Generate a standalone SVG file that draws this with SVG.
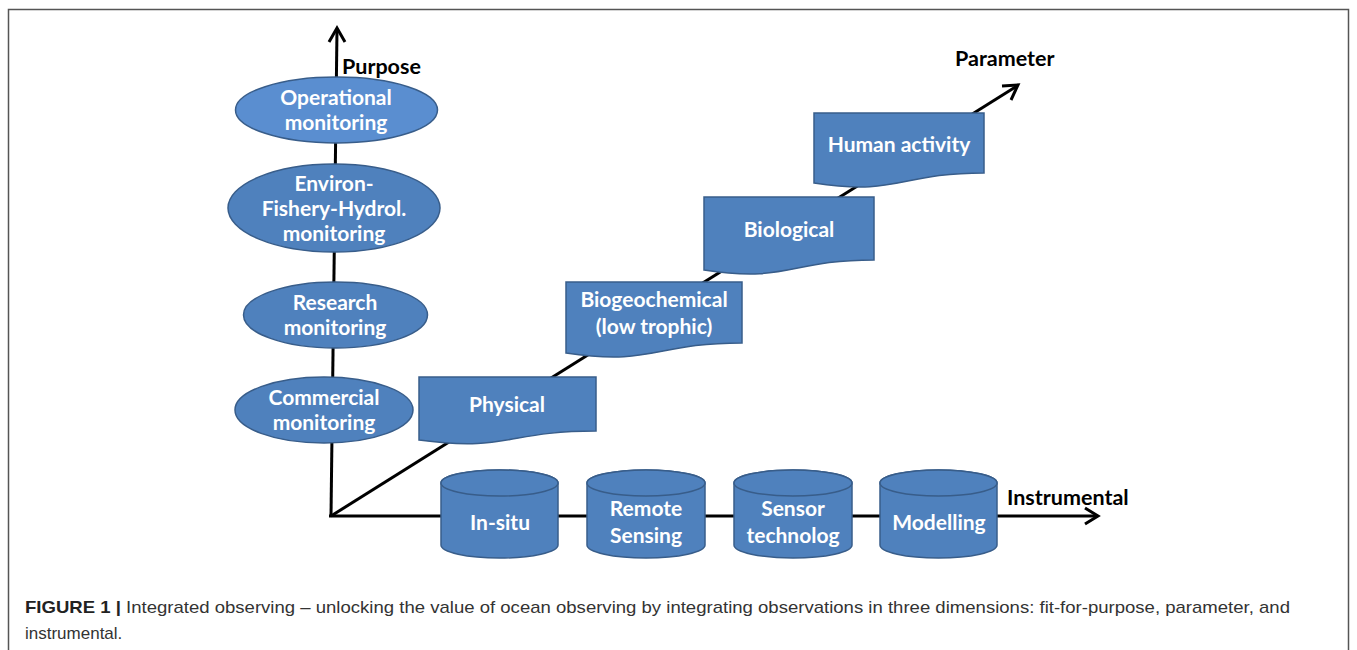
<svg xmlns="http://www.w3.org/2000/svg" width="1357" height="650" viewBox="0 0 1357 650">
<style>
.node{fill:#4f81bd;stroke:#385d8a;stroke-width:1.5}
.light{fill:#5a8ed0}
.t{font-family:Lato,"Liberation Sans",sans-serif;font-weight:bold;font-size:21px;fill:#ffffff;text-anchor:middle}
.ax{font-family:Lato,"Liberation Sans",sans-serif;font-weight:bold;font-size:21.5px;fill:#000000}
.axis{stroke:#000;stroke-width:3;fill:none}
.cap{font-family:"Liberation Sans",Arial,sans-serif;font-size:17px;fill:#333333}
</style>
<rect x="0" y="0" width="1357" height="650" fill="#ffffff"/>
<rect x="8.5" y="9.5" width="1340" height="660" fill="none" stroke="#555555" stroke-width="1.5"/>

<g id="connectors">
<line class="axis" x1="331" y1="516" x2="337" y2="29"/>
<polyline class="axis" points="329,42 337,28 345,42"/>
<line class="axis" x1="329" y1="516" x2="1097" y2="516"/>
<polyline class="axis" points="1085,508 1098,516 1085,524"/>
<line class="axis" x1="331" y1="516" x2="1017" y2="86"/>
<polyline class="axis" points="1002,86 1018,85 1011,100"/>
</g>

<g id="purpose-ops">
<ellipse class="node light" cx="336.5" cy="110" rx="101" ry="33"/>
<text class="t" x="336" y="105">Operational</text>
<text class="t" x="336" y="130">monitoring</text>
</g>
<g id="purpose-env">
<ellipse class="node" cx="334" cy="208" rx="106" ry="44"/>
<text class="t" x="334" y="191">Environ-</text>
<text class="t" x="334" y="216">Fishery-Hydrol.</text>
<text class="t" x="334" y="241">monitoring</text>
</g>
<g id="purpose-research">
<ellipse class="node" cx="335.5" cy="315" rx="92" ry="33"/>
<text class="t" x="335" y="310">Research</text>
<text class="t" x="335" y="335">monitoring</text>
</g>
<g id="purpose-commercial">
<ellipse class="node" cx="324" cy="410" rx="89" ry="33"/>
<text class="t" x="324" y="405">Commercial</text>
<text class="t" x="324" y="430">monitoring</text>
</g>

<g id="param-physical">
<path class="node" d="M419,377 H596 V431 C507.5,431 507.5,452 419,440 Z"/>
<text class="t" x="507" y="412">Physical</text>
</g>
<g id="param-biogeo">
<path class="node" d="M566,282 H742 V343 C654,343 654,366 566,353 Z"/>
<text class="t" x="654" y="307">Biogeochemical</text>
<text class="t" x="654" y="334">(low trophic)</text>
</g>
<g id="param-bio">
<path class="node" d="M704,197 H874 V260 C789,260 789,283 704,270 Z"/>
<text class="t" x="789" y="237">Biological</text>
</g>
<g id="param-human">
<path class="node" d="M814,113 H984 V173 C899,173 899,196 814,183 Z"/>
<text class="t" x="899" y="152">Human activity</text>
</g>

<g id="instr-insitu">
<path class="node" d="M441,483 A58.5,13 0 0 1 558,483 V545 A58.5,13 0 0 1 441,545 Z"/>
<ellipse class="node" cx="499.5" cy="483" rx="58.5" ry="13"/>
<text class="t" x="500" y="530">In-situ</text>
</g>
<g id="instr-remote">
<path class="node" d="M587,483 A59,13 0 0 1 705,483 V545 A59,13 0 0 1 587,545 Z"/>
<ellipse class="node" cx="646" cy="483" rx="59" ry="13"/>
<text class="t" x="646" y="516">Remote</text>
<text class="t" x="646" y="543">Sensing</text>
</g>
<g id="instr-sensor">
<path class="node" d="M734,483 A59,13 0 0 1 852,483 V545 A59,13 0 0 1 734,545 Z"/>
<ellipse class="node" cx="793" cy="483" rx="59" ry="13"/>
<text class="t" x="793" y="516">Sensor</text>
<text class="t" x="793" y="543">technolog</text>
</g>
<g id="instr-model">
<path class="node" d="M880,483 A58.5,13 0 0 1 997,483 V545 A58.5,13 0 0 1 880,545 Z"/>
<ellipse class="node" cx="938.5" cy="483" rx="58.5" ry="13"/>
<text class="t" x="939" y="530">Modelling</text>
</g>

<text class="ax" x="342" y="74">Purpose</text>
<text class="ax" x="955" y="66">Parameter</text>
<text class="ax" x="1007" y="505">Instrumental</text>

<text class="cap" x="25" y="613" textLength="1265" lengthAdjust="spacingAndGlyphs"><tspan font-weight="bold" fill="#222222">FIGURE 1 |</tspan> Integrated observing – unlocking the value of ocean observing by integrating observations in three dimensions: fit-for-purpose, parameter, and</text>
<text class="cap" x="25" y="639">instrumental.</text>
</svg>
